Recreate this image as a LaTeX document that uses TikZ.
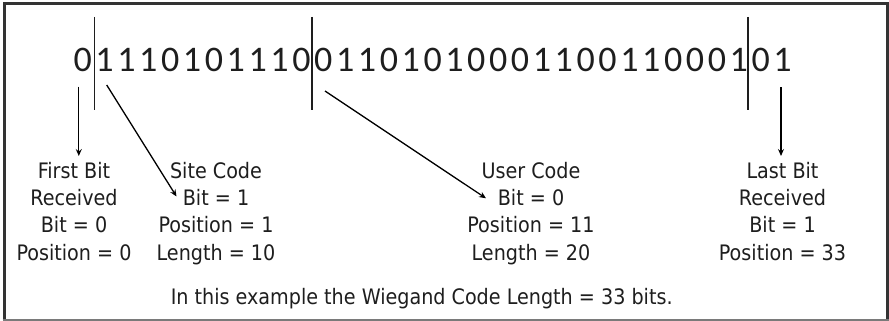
\documentclass[tikz,border=0pt]{standalone}
\usepackage{fontspec}
\setmainfont{DejaVu Sans Condensed}
\newfontfamily\bitfont{Carlito}
\usetikzlibrary{arrows.meta}
\definecolor{txt}{HTML}{1E1E1E}
\definecolor{frame}{HTML}{333333}
\definecolor{framebot}{HTML}{7A7A7A}
\tikzset{
  bitnode/.style={inner sep=0pt, anchor=base, text=txt, font=\bitfont\fontsize{36}{36}\selectfont},
  lab/.style={inner sep=0pt, anchor=base, text=txt, font=\fontsize{21.3}{27}\selectfont},
  bar/.style={line width=1.8pt, draw=txt},
  arr/.style={line width=1.3pt, draw=black, -{Stealth[length=7pt,width=6pt,inset=2.5pt]}},
}
\begin{document}
\begin{tikzpicture}[x=1pt,y=-1pt]
\useasboundingbox (0,0) rectangle (889,321);
\fill[white] (0,0) rectangle (889,321);
% frame
\draw[line width=3pt, draw=frame] (4,320) -- (4,4) -- (887.7,4) -- (887.7,320);
\draw[line width=2pt, draw=framebot] (2.5,320) -- (889,320);
% bits
\def\bits{0,1,1,1,0,1,0,1,1,1,0,0,1,1,0,1,0,1,0,0,0,1,1,0,0,1,1,0,0,0,1,0,1}
\foreach \b [count=\i from 0] in \bits {
  \node[bitnode] (b\i) at ({82.7+21.87*\i},71) {\b};
}
% separator bars
\coordinate (s1t) at (94.5,17); \coordinate (s1b) at (94.5,110);
\coordinate (s2t) at (312,17);  \coordinate (s2b) at (312,110);
\coordinate (s3t) at (748.3,17); \coordinate (s3b) at (748.3,110);
\draw[bar] (s1t) -- (s1b);
\draw[bar] (s2t) -- (s2b);
\draw[bar] (s3t) -- (s3b);
% labels
\node[lab] (f1) at (74,178.3) {First Bit};
\node[lab] (f2) at (74,205) {Received};
\node[lab] (f3) at (74,232.5) {Bit = 0};
\node[lab] (f4) at (74,260) {Position = 0};
\node[lab] (s1) at (216,178.3) {Site Code};
\node[lab] (s2) at (216,205) {Bit = 1};
\node[lab] (s3) at (216,232.5) {Position = 1};
\node[lab] (s4) at (216,260) {Length = 10};
\node[lab] (u1) at (531,178.3) {User Code};
\node[lab] (u2) at (531,205) {Bit = 0};
\node[lab] (u3) at (531,232.5) {Position = 11};
\node[lab] (u4) at (531,260) {Length = 20};
\node[lab] (l1) at (782.5,178.3) {Last Bit};
\node[lab] (l2) at (782.5,205) {Received};
\node[lab] (l3) at (782.5,232.5) {Bit = 1};
\node[lab] (l4) at (782.5,260) {Position = 33};
\node[lab] (note) at (421.7,304) {In this example the Wiegand Code Length = 33 bits.};
% arrows
\coordinate (a1s) at (78.8,86.7); \coordinate (a1e) at (78.8,156);
\coordinate (a2s) at (106.7,85);  \coordinate (a2e) at (176.5,196.5);
\coordinate (a3s) at (325,91);    \coordinate (a3e) at (486,198.3);
\coordinate (a4s) at (781,87.3);  \coordinate (a4e) at (781,156);
\draw[arr] (a1s) -- (a1e);
\draw[arr] (a2s) -- (a2e);
\draw[arr] (a3s) -- (a3e);
\draw[arr] (a4s) -- (a4e);
\end{tikzpicture}
\end{document}
